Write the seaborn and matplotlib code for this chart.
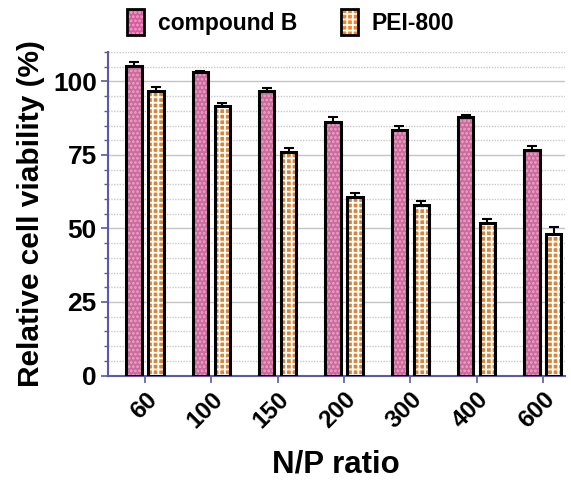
import matplotlib
matplotlib.use("Agg")
import matplotlib.pyplot as plt
import matplotlib.colors as mcolors
from matplotlib.patches import Patch
from matplotlib.ticker import MultipleLocator
import seaborn as sns
import pandas as pd

ratios = ["60", "100", "150", "200", "300", "400", "600"]
compound_b = [105.4, 103.1, 96.8, 86.1, 83.5, 87.8, 76.7]
compound_b_err = [1.2, 0.4, 0.9, 1.7, 1.4, 0.9, 1.5]
pei800 = [96.8, 91.8, 76.1, 60.8, 58.0, 52.0, 48.0]
pei800_err = [1.2, 0.8, 1.3, 1.3, 1.5, 1.1, 2.6]
series = ["compound B", "PEI-800"]

df = pd.DataFrame({
    "ratio": ratios * 2,
    "value": compound_b + pei800,
    "series": [series[0]] * len(ratios) + [series[1]] * len(ratios),
})

sns.set_theme(style="white")
plt.rcParams["font.family"] = ["Liberation Sans", "DejaVu Sans"]
plt.rcParams["font.weight"] = "bold"
plt.rcParams["text.color"] = "black"
plt.rcParams["axes.labelcolor"] = "black"
plt.rcParams["xtick.labelcolor"] = "black"
plt.rcParams["ytick.labelcolor"] = "black"
plt.rcParams["hatch.linewidth"] = 1.3

face = {"compound B": "#d95b9c", "PEI-800": "#f5851c"}
hatchc = {"compound B": "#f0a3ca", "PEI-800": "#ffffff"}
hatches = {"compound B": "....", "PEI-800": "+++"}

fig = plt.figure(figsize=(5.71, 4.80), dpi=100)
ax = fig.add_axes([0.189, 0.2177, 0.80, 0.674])

sns.barplot(data=df, x="ratio", y="value", hue="series", order=ratios,
            hue_order=series, palette=face, width=0.66, gap=0.3,
            edgecolor="black", linewidth=2.2, ax=ax, legend=False, zorder=3)

errs = {"compound B": compound_b_err, "PEI-800": pei800_err}
vals = {"compound B": compound_b, "PEI-800": pei800}
for cont, s in zip(ax.containers, series):
    xs = []
    for p in cont.patches:
        p.set_hatch(hatches[s])
        p._hatch_color = mcolors.to_rgba(hatchc[s])
        xs.append(p.get_x() + p.get_width() / 2)
    ax.errorbar(xs, vals[s], yerr=errs[s], fmt="none", ecolor="black",
                elinewidth=1.5, capsize=3.5, capthick=1.5, zorder=2)

ax.set_ylim(0, 110)
ax.set_xlim(-0.56, 6.33)
ax.yaxis.set_major_locator(MultipleLocator(25))
ax.yaxis.set_minor_locator(MultipleLocator(5))
ax.set_axisbelow(True)
ax.grid(axis="y", which="major", color="#c4c4c4", linewidth=1.0, linestyle="-")
ax.grid(axis="y", which="minor", color="#c8c8c8", linewidth=1.0, linestyle=(0, (1, 1)))

axis_c = "#5a5aa6"
for sp in ["top", "right"]:
    ax.spines[sp].set_visible(False)
for sp in ["left", "bottom"]:
    ax.spines[sp].set_color(axis_c)
    ax.spines[sp].set_linewidth(1.5)

ax.tick_params(axis="y", which="major", direction="out", length=5, width=1.2,
               color=axis_c, labelsize=19, pad=3, left=True, labelcolor="black")
ax.tick_params(axis="y", which="minor", direction="out", length=3, width=1,
               color=axis_c, left=True)
ax.tick_params(axis="x", which="major", direction="out", length=5, width=1.2,
               color=axis_c, labelsize=17.5, pad=4, bottom=True, labelcolor="black")
for lab in ax.get_yticklabels():
    lab.set_fontweight("bold")
for lab in ax.get_xticklabels():
    lab.set_fontweight("bold")
    lab.set_rotation(45)
    lab.set_ha("right")
    lab.set_va("top")
    lab.set_rotation_mode("anchor")

ax.set_xlabel("N/P ratio", fontsize=22.5, fontweight="bold", labelpad=12, color="black")
ax.set_ylabel("Relative cell viability (%)", fontsize=21.5, fontweight="bold",
              labelpad=6, color="black")

handles = [Patch(facecolor=face[s], edgecolor="black", hatch=hatches[s], linewidth=2)
           for s in series]
for h, s in zip(handles, series):
    h._hatch_color = mcolors.to_rgba(hatchc[s])
fig.legend(handles, series, loc="center left", bbox_to_anchor=(0.222, 0.954),
           ncol=2, frameon=False, handlelength=0.75, handleheight=1.4,
           columnspacing=1.9, handletextpad=0.6, borderpad=0, borderaxespad=0,
           prop={"size": 16.5, "weight": "bold"}, labelcolor="black")

fig.savefig("out.png", dpi=100)
